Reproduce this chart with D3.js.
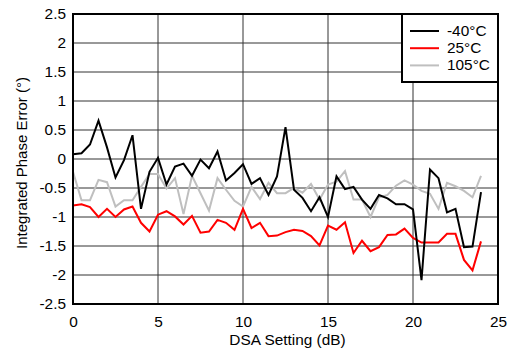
<!DOCTYPE html>
<html><head><meta charset="utf-8">
<script src="https://cdn.jsdelivr.net/npm/d3@7"></script>
<style>
html,body{margin:0;padding:0;background:#fff;}
svg text{font-family:"Liberation Sans",Arial,Helvetica,sans-serif;}
</style></head>
<body>
<svg id="c" width="508" height="352"></svg>
<script>
const dsa = d3.range(0, 24.01, 0.5);
const seriesNames = ["-40°C", "25°C", "105°C"];
const seriesColors = ["#000000", "#ff0000", "#bfbfbf"];
const m40 = [0.08,0.1,0.25,0.66,0.2,-0.32,-0.02,0.41,-0.86,-0.22,0.02,-0.44,-0.13,-0.08,-0.29,-0.01,-0.16,0.13,-0.37,-0.24,-0.09,-0.43,-0.33,-0.62,-0.3,0.55,-0.53,-0.67,-0.9,-0.66,-1.0,-0.3,-0.52,-0.48,-0.7,-0.86,-0.62,-0.68,-0.78,-0.78,-0.87,-2.09,-0.18,-0.33,-0.92,-0.86,-1.52,-1.51,-0.57];
const p25 = [-0.8,-0.78,-0.83,-1.0,-0.86,-1.0,-0.87,-0.82,-1.1,-1.25,-0.96,-0.9,-0.99,-1.13,-0.98,-1.27,-1.25,-1.05,-1.1,-1.22,-0.86,-1.19,-1.1,-1.33,-1.32,-1.26,-1.22,-1.24,-1.33,-1.49,-1.15,-1.22,-1.09,-1.62,-1.41,-1.59,-1.52,-1.31,-1.3,-1.2,-1.36,-1.44,-1.44,-1.44,-1.29,-1.29,-1.74,-1.92,-1.42];
const p105 = [-0.22,-0.71,-0.71,-0.36,-0.4,-0.82,-0.71,-0.71,-0.48,-0.26,-0.26,-0.51,-0.33,-0.95,-0.29,-0.59,-0.89,-0.33,-0.53,-0.72,-0.82,-0.48,-0.69,-0.41,-0.59,-0.59,-0.5,-0.58,-0.43,-0.7,-0.44,-0.39,-0.21,-0.7,-0.7,-1.0,-0.66,-0.62,-0.46,-0.37,-0.44,-0.55,-0.6,-0.86,-0.41,-0.47,-0.55,-0.66,-0.29];
const xTicks = [0,5,10,15,20,25];
const yTicks = [-2.5,-2,-1.5,-1,-0.5,0,0.5,1,1.5,2,2.5];
const xTitle = "DSA Setting (dB)";
const yTitle = "Integrated Phase Error (°)";

const svg = d3.select("#c");
const L = 73, R = 498, T = 14, B = 304;
const FS = 14, SX = 1.1;
const x = d3.scaleLinear().domain([0,25]).range([L,R]);
const y = d3.scaleLinear().domain([-2.5,2.5]).range([B,T]);

// grid
const g = svg.append("g");
g.selectAll(".vg").data(xTicks).enter().append("line")
  .attr("x1", d=>x(d)).attr("x2", d=>x(d)).attr("y1", T).attr("y2", B)
  .attr("stroke", "#333").attr("stroke-width", 1);
g.selectAll(".hg").data(yTicks).enter().append("line")
  .attr("x1", L).attr("x2", R).attr("y1", d=>y(d)).attr("y2", d=>y(d))
  .attr("stroke", "#333").attr("stroke-width", 1);

// axes labels via d3 axes
const xAxis = svg.append("g").attr("transform", `translate(0,${B})`)
  .call(d3.axisBottom(x).tickValues(xTicks).tickSize(0).tickPadding(13).tickFormat(d3.format("d")));
const yAxis = svg.append("g").attr("transform", `translate(${L},0)`)
  .call(d3.axisLeft(y).tickValues(yTicks).tickSize(0).tickPadding(7).tickFormat(d=>String(d)));
[xAxis, yAxis].forEach(a => {
  a.select(".domain").remove();
  a.selectAll("text").attr("font-size", FS).attr("fill", "#000")
    .attr("font-family", '"Liberation Sans",Arial,sans-serif');
});
yAxis.selectAll("text").attr("x", -7/SX).attr("transform", `scale(${SX},1)`);
xAxis.selectAll("text").attr("transform", `scale(${SX},1)`);

// series
const series = [m40, p25, p105];
const line = d3.line().x((d,i)=>x(dsa[i])).y(d=>y(d));
const order = [2,1,0];
order.forEach(k => {
  svg.append("path").datum(series[k]).attr("d", line)
    .attr("fill","none").attr("stroke", seriesColors[k]).attr("stroke-width", 2)
    .attr("stroke-linejoin","miter");
});

// frame
svg.append("rect").attr("x", L).attr("y", T).attr("width", R-L).attr("height", B-T)
  .attr("fill","none").attr("stroke","#000").attr("stroke-width", 2);

// legend
const lg = svg.append("g");
lg.append("rect").attr("x", 402).attr("y", T).attr("width", R-402).attr("height", 68)
  .attr("fill","#fff").attr("stroke","#000").attr("stroke-width", 2);
seriesNames.forEach((n,i) => {
  const yy = 31 + i*17.2;
  lg.append("line").attr("x1", 410).attr("x2", 439).attr("y1", yy).attr("y2", yy)
    .attr("stroke", seriesColors[i]).attr("stroke-width", 2);
  lg.append("text").attr("transform", `translate(447,${yy+5}) scale(${SX},1)`)
    .attr("font-size", FS).text(n);
});

// titles
svg.append("text").attr("transform", `translate(${(L+R)/2+2},345) scale(${SX},1)`)
  .attr("text-anchor","middle").attr("font-size", FS).text(xTitle);
svg.append("text").attr("transform", `translate(27,${(T+B)/2+4}) rotate(-90)`)
  .attr("text-anchor","middle").attr("font-size", 15).text(yTitle);
</script>
</body></html>
